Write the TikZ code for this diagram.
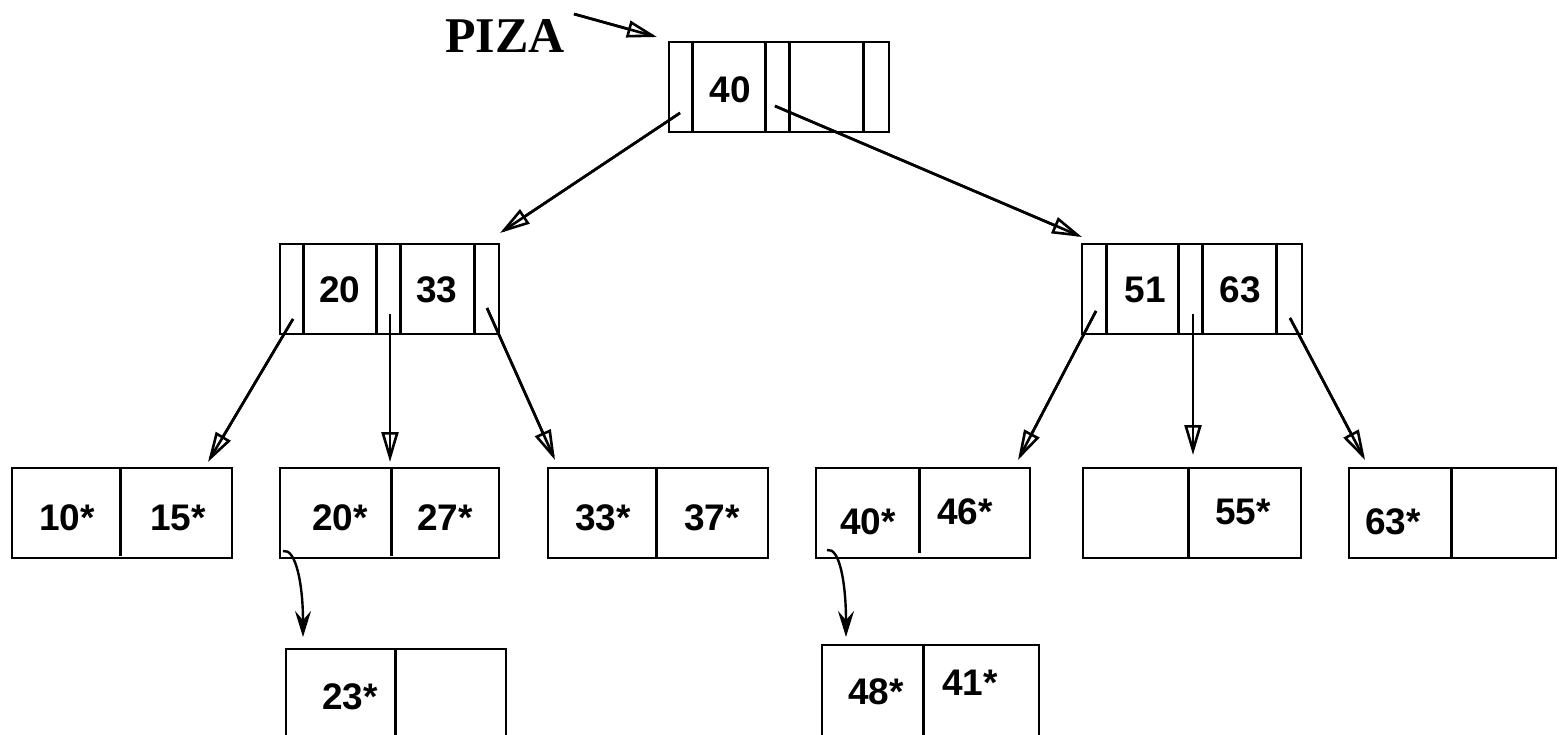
\documentclass[tikz,border=0pt]{standalone}
\usepackage{fontspec}
\setmainfont{Liberation Sans}
\newfontfamily\serifb{Liberation Serif}
\usetikzlibrary{arrows.meta}
\begin{document}
\begin{tikzpicture}[x=1pt,y=-1pt,
 box/.style={draw, line width=2.8pt, rectangle, inner sep=0pt, minimum height=90pt},
 div/.style={line width=2.8pt},
 lbl/.style={font=\fontsize{37}{37}\selectfont\bfseries, inner sep=0pt},
 ptr/.style={-{Triangle[open,length=30pt,width=17pt,line width=2.6pt]}, line width=2.6pt, postaction={draw,-,shorten >=4pt}},
 ovf/.style={-{Stealth[length=26pt,width=16pt,inset=9pt]}, line width=2.4pt}]
\useasboundingbox (0,0) rectangle (1559,734);

% root
\node[box, minimum width=220pt] (root) at (779,87) {};
\foreach \x in {25,98,122,196} \draw[div] ([xshift=\x pt]root.north west) -- ([xshift=\x pt]root.south west);
\node[lbl] (rootk) at (730,90) {40};

% PIZA
\node[font=\fontsize{50}{50}\selectfont\serifb\bfseries, inner sep=0pt] (piza) at (505,36) {PIZA};
\coordinate (pizaS) at (574,14);
\coordinate (pizaE) at (657,37);
\draw[ptr] (pizaS) -- (pizaE);

% level 2
\node[box, minimum width=219pt] (L) at (389.5,289) {};
\foreach \x in {25,98,122,196} \draw[div] ([xshift=\x pt]L.north west) -- ([xshift=\x pt]L.south west);
\node[lbl] (Lk1) at (340,290) {20};
\node[lbl] (Lk2) at (437,290) {33};

\node[box, minimum width=220pt] (R) at (1192,289) {};
\foreach \x in {26,98,122,196} \draw[div] ([xshift=\x pt]R.north west) -- ([xshift=\x pt]R.south west);
\node[lbl] (Rk1) at (1145,290) {51};
\node[lbl] (Rk2) at (1240,290) {63};

% leaves
\node[box, minimum width=220pt] (A) at (122,513) {};
\draw[div] ([xshift=110pt]A.north west) -- ([xshift=110pt,yshift=3pt]A.south west);
\node[lbl] at (67,518) {10*};
\node[lbl] at (178,518) {15*};

\node[box, minimum width=219pt] (B) at (389.5,513) {};
\draw[div] ([xshift=113pt]B.north west) -- ([xshift=113pt,yshift=3pt]B.south west);
\node[lbl] at (340,518) {20*};
\node[lbl] at (445,518) {27*};

\node[box, minimum width=220pt] (C) at (658,513) {};
\draw[div] ([xshift=110pt]C.north west) -- ([xshift=110pt]C.south west);
\node[lbl] at (603,518) {33*};
\node[lbl] at (712,518) {37*};

\node[box, minimum width=214pt] (D) at (923,513) {};
\draw[div] ([xshift=105pt]D.north west) -- ([xshift=105pt,yshift=6pt]D.south west);
\node[lbl] at (868,522) {40*};
\node[lbl] at (965,512) {46*};

\node[box, minimum width=218pt] (E) at (1192,513) {};
\draw[div] ([xshift=107pt]E.north west) -- ([xshift=107pt]E.south west);
\node[lbl] at (1243,512) {55*};

\node[box, minimum width=207pt] (F) at (1452.5,513) {};
\draw[div] ([xshift=104pt]F.north west) -- ([xshift=104pt]F.south west);
\node[lbl] at (1393,522) {63*};

% overflow pages
\node[box, minimum width=220pt, minimum height=100pt] (G) at (396,699) {};
\draw[div] ([xshift=111pt]G.north west) -- ([xshift=111pt]G.south west);
\node[lbl] at (350,697) {23*};

\node[box, minimum width=217pt, minimum height=104pt] (H) at (930.5,697) {};
\draw[div] ([xshift=103pt]H.north west) -- ([xshift=103pt]H.south west);
\node[lbl] at (876,692) {48*};
\node[lbl] at (970,683) {41*};

% pointer coordinates
\coordinate (r0) at (680,113);
\coordinate (r1) at (775,106);
\coordinate (L0) at (293,319);
\coordinate (L1) at (390,314);
\coordinate (L2) at (487,308);
\coordinate (R0) at (1096,311);
\coordinate (R1) at (1193,314);
\coordinate (R2) at (1290,318);
\coordinate (tL) at (500,233);
\coordinate (tR) at (1082,237);
\coordinate (tA) at (208,462);
\coordinate (tB) at (390,462);
\coordinate (tC) at (555,460);
\coordinate (tD) at (1018,460);
\coordinate (tE) at (1193,455);
\coordinate (tF) at (1365,460);
\coordinate (oB) at (283,551);
\coordinate (oG) at (303,637);
\coordinate (oD) at (827,550);
\coordinate (oH) at (846,637);

\draw[ptr] (r0) -- (tL);
\draw[ptr] (r1) -- (tR);
\draw[ptr] (L0) -- (tA);
\draw[ptr] (L1) -- (tB);
\draw[ptr] (L2) -- (tC);
\draw[ptr] (R0) -- (tD);
\draw[ptr] (R1) -- (tE);
\draw[ptr] (R2) -- (tF);
\draw[ovf] (oB) .. controls (296,548) and (303,585) .. (oG);
\draw[ovf] (oD) .. controls (840,547) and (846,585) .. (oH);
\end{tikzpicture}
\end{document}
